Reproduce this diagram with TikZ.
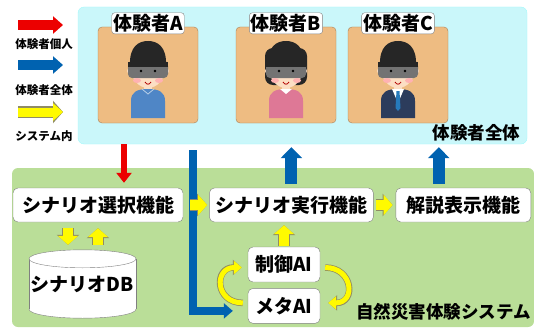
\documentclass[tikz,border=0pt]{standalone}
\usepackage{fontspec}
\setmainfont{Noto Sans CJK JP}
\usetikzlibrary{positioning,arrows.meta}

\definecolor{skyback}{RGB}{202,247,250}
\definecolor{grassback}{RGB}{186,222,152}
\definecolor{cardtan}{RGB}{238,188,130}
\definecolor{flowblue}{RGB}{0,98,176}
\definecolor{flowred}{RGB}{236,0,0}
\definecolor{flowyellow}{RGB}{255,250,0}
\definecolor{skin}{RGB}{252,222,196}
\definecolor{shirtA}{RGB}{79,134,198}
\definecolor{shirtB}{RGB}{222,120,150}
\definecolor{suitC}{RGB}{44,60,92}

% head with VR goggles, origin at the face centre
\tikzset{
  vrhead/.pic={
    \fill[skin] (-17,3) circle (4) (17,3) circle (4);
    \fill[skin] (0,0) ellipse [x radius=17, y radius=20];
    \fill[black!85] (-18,-2) .. controls (-19,-22) and (-9,-27) .. (0,-27)
      .. controls (9,-27) and (19,-22) .. (18,-2) -- cycle;
    \fill[black!55, rounded corners=4pt] (-20,-6) rectangle (20,10);
    \fill[black!85] (-20,-6) rectangle (20,-1);
    \fill[black] (-7,3) circle (1.3) (7,3) circle (1.3);
    \fill[red!30] (-11,12.5) ellipse [x radius=4, y radius=2.5]
                  (11,12.5) ellipse [x radius=4, y radius=2.5];
    \draw[red!70!black, line width=0.8pt] (-3,14) .. controls (-1,17) and (1,17) .. (3,14);
  },
  pics/torso/.style={code={
    \fill[skin] (-4,14) rectangle (4,23);
    \fill[#1] (-17,50) -- (-17,33) .. controls (-17,24) and (-11,21) .. (0,21)
      .. controls (11,21) and (17,24) .. (17,33) -- (17,50) -- cycle;
  }},
}

\begin{document}
\begin{tikzpicture}[x=1pt, y=-1pt,
  sky/.style={fill=skyback, draw=skyback!80!cyan, rounded corners=6pt,
    minimum width=449pt, minimum height=137pt},
  grass/.style={fill=grassback, rounded corners=6pt,
    minimum width=522pt, minimum height=159pt},
  card/.style={fill=cardtan, draw=brown!60!gray, rounded corners=4pt,
    minimum width=100pt, minimum height=96pt},
  tag/.style={fill=white, draw=gray, rounded corners=3pt, inner sep=1.5pt,
    font=\fontsize{19}{20}\selectfont\bfseries},
  func/.style={fill=white, draw=gray, rounded corners=5pt, inner sep=1pt,
    minimum height=34pt, font=\fontsize{19}{20}\selectfont\bfseries},
  legend/.style={font=\fontsize{11.5}{12}\selectfont\bfseries, inner sep=0pt},
  area/.style={font=\fontsize{17.5}{18}\selectfont\bfseries, inner sep=0pt},
  redflow/.style={flowred, line width=6pt, -{Triangle[width=15pt,length=10pt]}},
  blueflow/.style={flowblue, line width=8pt, -{Triangle[width=15pt,length=9pt]}},
  bigup/.style={flowblue, line width=12pt, -{Triangle[width=21pt,length=11pt]}},
  yflow/.style={flowyellow, line width=10pt, -{Triangle[width=20pt,length=9pt]},
    preaction={draw=gray!70!olive, line width=11.5pt, -{Triangle[width=22pt,length=10pt]}}},
  ycurve/.style={flowyellow, line width=5pt, -{Triangle[width=13pt,length=8pt]},
    preaction={draw=gray!70!olive, line width=6.5pt, -{Triangle[width=15pt,length=9pt]}}},
]
\useasboundingbox (0,0) rectangle (534,329);

% panels
\node[sky] (users) at (302.5,75.5) {};
\node[grass] (system) at (273,247.5) {};

% experiencers
\foreach \cx/\who in {148/A, 286/B, 398/C} {
  \node[card] (card\who) at (\cx,75) {};
}
\pic at ([yshift=7pt]cardA.center) {torso=shirtA};
\draw[white!60!shirtA, line width=0.8pt] ([xshift=-6pt,yshift=-14pt]cardA.center) -- ++(6,5) -- ++(6,-5);
\pic at ([yshift=7pt]cardA.center) {vrhead};

\fill[black!85, rounded corners=8pt] ([xshift=-21pt,yshift=27pt]cardB.center) rectangle ([xshift=21pt,yshift=-10pt]cardB.center);
\pic at ([yshift=7pt]cardB.center) {torso=shirtB};
\fill[white] ([xshift=-6pt,yshift=-14pt]cardB.center) -- ++(6,5) -- ++(6,-5) -- cycle;
\pic at ([yshift=7pt]cardB.center) {vrhead};

\pic at ([yshift=7pt]cardC.center) {torso=suitC};
\fill[white] ([xshift=-6pt,yshift=-14pt]cardC.center) -- ++(12,0) -- ++(-6,14) -- cycle;
\fill[flowblue!85] ([xshift=-1.5pt,yshift=-16pt]cardC.center) -- ++(3,0) -- ++(1,17) -- ++(-2.5,3) -- ++(-2.5,-3) -- cycle;
\pic at ([yshift=7pt]cardC.center) {vrhead};

\foreach \who in {A, B, C} {
  \node[tag] (tag\who) at ([yshift=3.5pt]card\who.north) {体験者\who};
}
\node[area, anchor=south east] (alllabel) at ([xshift=-7pt,yshift=3pt]users.south east) {体験者全体};

% legend
\node[legend] (lgone) at (44,44) {体験者個人};
\node[legend] (lgall) at (44,90) {体験者全体};
\node[legend] (lgsys) at (44,136) {システム内};
\draw[flowred, line width=10pt, -{Triangle[width=17pt,length=10pt]}]
  ([xshift=-26pt,yshift=19pt]lgone.center) -- ([xshift=19pt,yshift=19pt]lgone.center);
\draw[flowblue, line width=10pt, -{Triangle[width=17pt,length=10pt]}]
  ([xshift=-26pt,yshift=25pt]lgall.center) -- ([xshift=19pt,yshift=25pt]lgall.center);
\draw[yflow, line width=9pt, -{Triangle[width=17pt,length=10pt]}]
  ([xshift=-26pt,yshift=24pt]lgsys.center) -- ([xshift=19pt,yshift=24pt]lgsys.center);

% functions
\node[func, minimum width=170pt] (select) at (98,205) {シナリオ選択機能};
\node[func, minimum width=164pt, right=26pt of select] (exec) {シナリオ実行機能};
\node[func, minimum width=135pt, right=22pt of exec] (expl) {解説表示機能};
\node[func, minimum width=72pt, minimum height=35pt] (ctrl) at (284,264.5) {制御AI};
\node[func, minimum width=72pt, minimum height=35pt, below=6pt of ctrl] (meta) {メタAI};
\node[area, anchor=east] (syslabel) at (531,312) {自然災害体験システム};

% scenario database
\node[minimum width=107pt, minimum height=68pt] (db) at (82.5,284) {};
\draw[gray, fill=white] ([yshift=9pt]db.south) ellipse [x radius=53.5, y radius=9];
\fill[white] ([yshift=-9pt]db.north west) rectangle ([yshift=9pt]db.south east);
\draw[gray] ([yshift=-9pt]db.north west) -- ([yshift=9pt]db.south west)
            ([yshift=-9pt]db.north east) -- ([yshift=9pt]db.south east);
\draw[gray, fill=white] ([yshift=-9pt]db.north) ellipse [x radius=53.5, y radius=9];
\node[font=\fontsize{19}{20}\selectfont\bfseries] (dblabel) at (db.center) {シナリオDB};

% flows
\draw[redflow, shorten >=5pt] ([xshift=26pt]select.north |- users.south) -- ([xshift=26pt]select.north);
\draw[blueflow, shorten <=6pt, shorten >=15pt] ([xshift=115pt]users.south west) |- ([yshift=-5pt]meta.west);
\draw[bigup, shorten <=4pt, shorten >=3pt] (exec.north) -- (exec.north |- users.south);
\draw[bigup, shorten <=4pt, shorten >=3pt] ([xshift=-24.5pt]expl.north) -- ([xshift=-24.5pt]expl.north |- users.south);

\draw[yflow, shorten <=7pt, shorten >=2pt] (select.east) -- (exec.west);
\draw[yflow, shorten <=2pt, shorten >=3pt] (exec.east) -- (expl.west);
\draw[yflow, shorten <=1pt, shorten >=3pt] (ctrl.north) -- (ctrl.north |- exec.south);
\draw[yflow, shorten <=6pt, shorten >=5pt] ([xshift=-30pt]select.south) -- ([xshift=-30pt]select.south |- db.north);
\draw[yflow, shorten <=5pt, shorten >=6pt] (select.south |- db.north) -- (select.south);

\draw[ycurve] ([xshift=-5pt,yshift=3pt]meta.west) .. controls +(-28,0) and +(-28,0) .. ([xshift=-6pt,yshift=-3pt]ctrl.west);
\draw[ycurve] ([xshift=5pt,yshift=-3pt]ctrl.east) .. controls +(28,0) and +(28,0) .. ([xshift=8pt,yshift=3pt]meta.east);
\end{tikzpicture}
\end{document}
